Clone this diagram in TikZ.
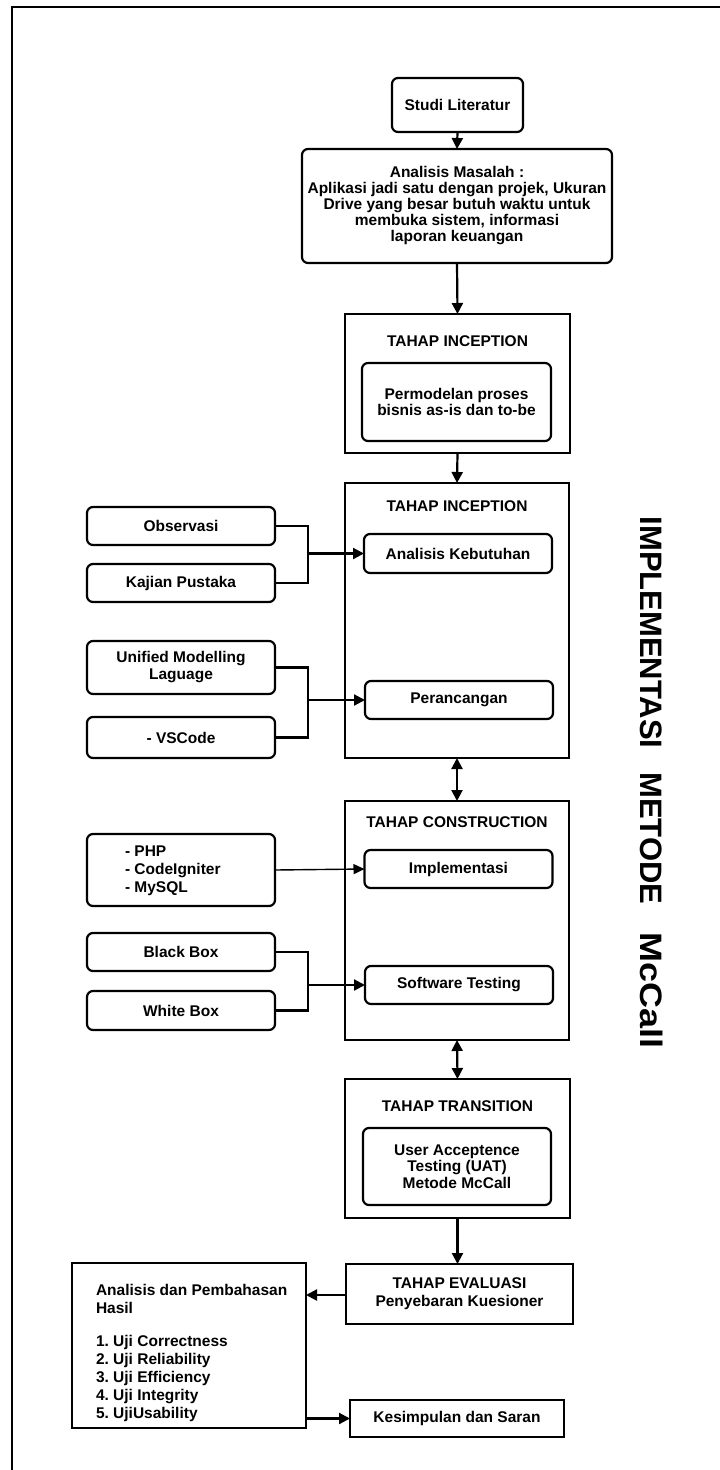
\documentclass[tikz,border=0pt]{standalone}
\usepackage{fontspec}
\setmainfont{Liberation Sans}
\usetikzlibrary{arrows.meta}
\frenchspacing

\tikzset{
  every node/.style={font=\bfseries\fontsize{15.5}{16}\selectfont, inner sep=0pt, outer sep=0pt},
  rbox/.style={draw, line width=2.2pt, rounded corners=6pt, align=center},
  sbox/.style={draw, line width=2.2pt, align=center},
  conn/.style={line width=2.2pt},
  arr/.style={line width=2.2pt, -{Triangle[length=11pt,width=11pt]}},
  darr/.style={line width=2.2pt, {Triangle[length=11pt,width=11pt]}-{Triangle[length=11pt,width=11pt]}},
  thinarr/.style={line width=1.4pt, -{Triangle[length=11pt,width=10pt]}},
}

\begin{document}
\begin{tikzpicture}[x=1pt, y=-1pt]
\useasboundingbox (0,0) rectangle (720,1470);

% page frame (top and left edges)
\draw[line width=2pt] (12,1470) -- (12,7) -- (720,7);

% main column
\node[rbox, minimum width=131pt, minimum height=54pt] (studi) at (457.5,105) {Studi Literatur};
\node[rbox, minimum width=310pt, minimum height=114pt] (masalah) at (457,206)
  {Analisis Masalah :\\Aplikasi jadi satu dengan projek, Ukuran\\Drive yang besar butuh waktu untuk\\membuka sistem, informasi\\laporan keuangan};

\node[sbox, minimum width=225pt, minimum height=139pt] (inc1) at (457.5,383.5) {};
\node (inc1t) at (457.5,341) {TAHAP INCEPTION};
\node[rbox, minimum width=189pt, minimum height=78pt] (perm) at (456.5,402)
  {Permodelan proses\\bisnis as-is dan to-be};

\node[sbox, minimum width=224pt, minimum height=275pt] (inc2) at (457,620.5) {};
\node (inc2t) at (457,506) {TAHAP INCEPTION};
\node[rbox, minimum width=188pt, minimum height=39pt] (kebut) at (458,553.5) {Analisis Kebutuhan};
\node[rbox, minimum width=188pt, minimum height=38pt] (peran) at (459,700) {Perancangan};

\node[sbox, minimum width=224pt, minimum height=239pt] (cons) at (457,920.5) {};
\node (const) at (457,822) {TAHAP CONSTRUCTION};
\node[rbox, minimum width=188pt, minimum height=38pt] (impl) at (458.5,869) {Implementasi};
\node[rbox, minimum width=188pt, minimum height=38pt] (soft) at (459,985) {Software Testing};

\node[sbox, minimum width=225pt, minimum height=139pt] (trans) at (457.5,1148.5) {};
\node (transt) at (457.5,1106) {TAHAP TRANSITION};
\node[rbox, minimum width=188pt, minimum height=77pt, font=\bfseries\fontsize{15.5}{16.5}\selectfont] (uat) at (457,1166.5)
  {User Acceptence\\Testing (UAT)\\Metode McCall};

\node[sbox, minimum width=227pt, minimum height=60pt, font=\bfseries\fontsize{15.5}{18}\selectfont] (eval) at (459.5,1294)
  {TAHAP EVALUASI\\Penyebaran Kuesioner};

\node[sbox, minimum width=234pt, minimum height=165pt] (hasil) at (189,1345.5) {};
\node[anchor=north west, align=left, font=\bfseries\fontsize{15.5}{17.8}\selectfont] (hasilt) at (96,1284)
  {Analisis dan Pembahasan\\Hasil\\[16pt]1. Uji Correctness\\2. Uji Reliability\\3. Uji Efficiency\\4. Uji Integrity\\5. UjiUsability};

\node[sbox, minimum width=214pt, minimum height=37pt] (kes) at (457,1418.5) {Kesimpulan dan Saran};

% side inputs
\node[rbox, minimum width=188pt, minimum height=38pt] (obs) at (181,526) {Observasi};
\node[rbox, minimum width=188pt, minimum height=38pt] (kaj) at (181,583) {Kajian Pustaka};
\node[rbox, minimum width=188pt, minimum height=53pt, font=\bfseries\fontsize{15.5}{17}\selectfont] (uml) at (181,667.5) {Unified Modelling\\Laguage};
\node[rbox, minimum width=188pt, minimum height=41pt] (vsc) at (181,737.5) {- VSCode};
\node[rbox, minimum width=188pt, minimum height=72pt] (php) at (181,870) {};
\node[anchor=west, align=left, font=\bfseries\fontsize{15.5}{18}\selectfont] (phpt) at (125,871) {- PHP\\- CodeIgniter\\- MySQL};
\node[rbox, minimum width=188pt, minimum height=38pt] (bb) at (181,952) {Black Box};
\node[rbox, minimum width=188pt, minimum height=39pt] (wb) at (181,1010.5) {White Box};

% vertical title
\node[rotate=-90, font=\bfseries\fontsize{31}{31}\selectfont] (judul) at (652,782.5)
  {IMPLEMENTASI\hspace{24pt}METODE\hspace{28pt}\scalebox{1.16}[1]{McCall}};

% junction points of the merged inputs
\coordinate (j1) at (308,553.5);
\coordinate (j2) at (308,700);
\coordinate (j3) at (308,985);

% main flow
\draw[arr] (studi.south) -- (masalah.north);
\draw[arr] (masalah.south) -- (inc1.north);
\draw[arr] (inc1.south) -- (inc2.north);
\draw[darr] (inc2.south) -- (cons.north);
\draw[darr] (cons.south) -- (trans.north);
\draw[arr] (trans.south) -- (trans.south |- eval.north);
\draw[arr] (eval.west |- 0,1295) -- (hasil.east |- 0,1295);
\draw[arr] (hasil.east |- kes.west) -- (kes.west);

% inputs into the phases
\draw[conn] (obs.east) -| (j1) |- (kaj.east);
\draw[arr] (j1) -- (kebut.west);
\draw[conn] (uml.east) -| (j2) |- (vsc.east);
\draw[arr] (j2) -- (peran.west);
\draw[thinarr] (php.east) -- (impl.west);
\draw[conn] (bb.east) -| (j3) |- (wb.east);
\draw[arr] (j3) -- (soft.west);
\end{tikzpicture}
\end{document}
